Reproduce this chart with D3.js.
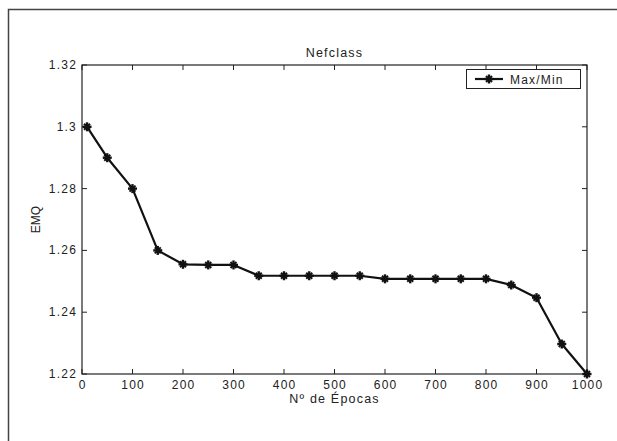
<!DOCTYPE html>
<html><head><meta charset="utf-8">
<script src="https://cdn.jsdelivr.net/npm/d3@7"></script>
<style>body{margin:0;background:#fff}svg{display:block}text{font-family:"Liberation Sans",Arial,sans-serif;fill:#222}</style>
</head><body><svg id="c" width="617" height="441"></svg>
<script>
const epochs = [10,50,100,150,200,250,300,350,400,450,500,550,600,650,700,750,800,850,900,950,1000];
const emq = [1.300,1.290,1.280,1.260,1.2555,1.2553,1.2553,1.2518,1.2518,1.2518,1.2518,1.2518,1.2508,1.2508,1.2508,1.2508,1.2508,1.2488,1.2447,1.2297,1.2200];
const xTicks = [0,100,200,300,400,500,600,700,800,900,1000];
const yTicks = [1.22,1.24,1.26,1.28,1.30,1.32];
const yTickLabels = ["1.22","1.24","1.26","1.28","1.3","1.32"];
const title = "Nefclass", xLabel = "Nº de Épocas", yLabel = "EMQ", seriesName = "Max/Min";

const svg = d3.select("#c");
const L=82,R=587,T=65,B=374;
const x = d3.scaleLinear().domain([0,1000]).range([L,R]);
const y = d3.scaleLinear().domain([1.22,1.32]).range([B,T]);

svg.append("rect").attr("x",8.5).attr("y",9.5).attr("width",700).attr("height",500)
  .attr("fill","none").attr("stroke","#444").attr("stroke-width",1.5);

svg.append("rect").attr("x",L).attr("y",T).attr("width",R-L).attr("height",B-T)
  .attr("fill","none").attr("stroke","#222").attr("stroke-width",1.2);

const tl=5;
const g=svg.append("g").attr("stroke","#222").attr("stroke-width",1);
xTicks.forEach(t=>{
  g.append("line").attr("x1",x(t)).attr("x2",x(t)).attr("y1",B).attr("y2",B-tl);
  g.append("line").attr("x1",x(t)).attr("x2",x(t)).attr("y1",T).attr("y2",T+tl);
});
yTicks.forEach(t=>{
  g.append("line").attr("x1",L).attr("x2",L+tl).attr("y1",y(t)).attr("y2",y(t));
  g.append("line").attr("x1",R).attr("x2",R-tl).attr("y1",y(t)).attr("y2",y(t));
});
const fs=12, ls="1.2px";
svg.selectAll(".xt").data(xTicks).join("text").attr("x",d=>x(d)+0.6).attr("y",B+15)
  .attr("text-anchor","middle").attr("font-size",fs).attr("letter-spacing",ls).text(d=>d);
svg.selectAll(".yt").data(yTicks).join("text").attr("x",L-5).attr("y",(d)=>y(d)+4)
  .attr("text-anchor","end").attr("font-size",fs).attr("letter-spacing",ls).text((d,i)=>yTickLabels[i]);

svg.append("text").attr("x",(L+R)/2).attr("y",T-8).attr("text-anchor","middle")
  .attr("font-size",fs+0.5).attr("letter-spacing",ls).text(title);
svg.append("text").attr("x",(L+R)/2).attr("y",B+29).attr("text-anchor","middle")
  .attr("font-size",fs+0.5).attr("letter-spacing",ls).text(xLabel);
svg.append("text").attr("transform",`translate(${L-42},${(T+B)/2}) rotate(-90)`).attr("text-anchor","middle")
  .attr("font-size",fs).text(yLabel);

const data = epochs.map((e,i)=>({e,v:emq[i]}));
svg.append("path").datum(data).attr("fill","none").attr("stroke","#111").attr("stroke-width",2.2)
  .attr("stroke-linejoin","round")
  .attr("d",d3.line().x(d=>x(d.e)).y(d=>y(d.v)));

function marker(sel,cx,cy){
  const r=4.5, q=3;
  const mg=sel.append("g").attr("stroke","#111").attr("stroke-width",2.4);
  mg.append("line").attr("x1",cx-r).attr("x2",cx+r).attr("y1",cy).attr("y2",cy);
  mg.append("line").attr("x1",cx).attr("x2",cx).attr("y1",cy-r).attr("y2",cy+r);
  mg.append("line").attr("x1",cx-q).attr("x2",cx+q).attr("y1",cy-q).attr("y2",cy+q).attr("stroke-width",2);
  mg.append("line").attr("x1",cx-q).attr("x2",cx+q).attr("y1",cy+q).attr("y2",cy-q).attr("stroke-width",2);
  sel.append("circle").attr("cx",cx).attr("cy",cy).attr("r",2.2).attr("fill","#111");
}
data.forEach(d=>marker(svg,x(d.e),y(d.v)));

svg.append("rect").attr("x",466.5).attr("y",69.5).attr("width",114).attr("height",19)
  .attr("fill","#fff").attr("stroke","#222").attr("stroke-width",1);
svg.append("line").attr("x1",475).attr("x2",503).attr("y1",79).attr("y2",79).attr("stroke","#111").attr("stroke-width",2.2);
marker(svg,489,79);
svg.append("text").attr("x",510).attr("y",83.5).attr("font-size",fs).attr("letter-spacing",ls).text(seriesName);
</script></body></html>
